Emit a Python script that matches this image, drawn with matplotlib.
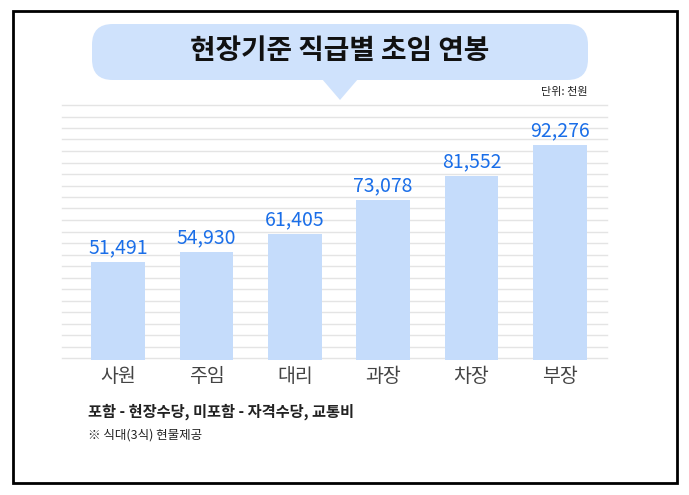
import matplotlib
matplotlib.use("Agg")
import matplotlib.pyplot as plt
from matplotlib.patches import FancyBboxPatch, Polygon, Rectangle
from matplotlib.lines import Line2D

plt.rcParams['font.family'] = ['Noto Sans CJK KR', 'Noto Sans CJK JP', 'Noto Sans CJK SC',
                               'Noto Sans CJK TC', 'DejaVu Sans']

categories = ['사원', '주임', '대리', '과장', '차장', '부장']
values = [51491, 54930, 61405, 73078, 81552, 92276]

W, H = 689, 495
fig = plt.figure(figsize=(W/100, H/100), dpi=100)
fig.patch.set_facecolor('white')

def fx(x): return x / W
def fy(y): return 1 - y / H

# border
fig.add_artist(Rectangle((fx(13), fy(483)), fx(664), (483-11)/H, fill=False,
                         edgecolor='black', linewidth=2, transform=fig.transFigure))

# stripes
y = 105
while y <= 358:
    fig.add_artist(Line2D([fx(62), fx(607)], [fy(y), fy(y)], color='#e4e4e4',
                          linewidth=1, transform=fig.transFigure, zorder=0))
    y += 11.5

# title bubble
bubble_color = '#cfe2fc'
fig.add_artist(FancyBboxPatch((fx(92), fy(80)), fx(496), 56/H,
                              boxstyle="round,pad=0,rounding_size=0.03",
                              facecolor=bubble_color, edgecolor='none',
                              transform=fig.transFigure, mutation_aspect=W/H))
fig.add_artist(Polygon([[fx(322), fy(79)], [fx(358), fy(79)], [fx(340), fy(100)]],
                       closed=True, facecolor=bubble_color, edgecolor='none',
                       transform=fig.transFigure))
fig.text(fx(340), fy(51), '현장기준 직급별 초임 연봉', ha='center', va='center',
         fontsize=20, fontweight='bold', color='#111111')
fig.text(fx(588), fy(92), '단위: 천원', ha='right', va='center', fontsize=8, color='#222222')

ax = fig.add_axes([fx(74), fy(360), fx(530), 260/H])
ax.set_facecolor('none')
x = range(len(categories))
ax.bar(x, values, width=0.61, color='#c5dcfb', zorder=2)
for i, v in enumerate(values):
    ax.text(i, v + 1200, f'{v:,}', ha='center', va='bottom', fontsize=14, color='#1a6ee8')
ax.set_xlim(-0.5, 5.5)
ax.set_ylim(17331, 107954)
ax.set_xticks(list(x))
ax.set_xticklabels(categories, fontsize=14, color='#444444')
ax.tick_params(axis='x', length=0, pad=4)
ax.set_yticks([])
for s in ax.spines.values():
    s.set_visible(False)

fig.text(fx(88), fy(412), '포함 - 현장수당, 미포함 - 자격수당, 교통비', ha='left', va='center',
         fontsize=11, fontweight='bold', color='#222222')
fig.text(fx(88), fy(435), '※ 식대(3식) 현물제공', ha='left', va='center',
         fontsize=9, color='#222222')

fig.savefig('out.png', dpi=100)
